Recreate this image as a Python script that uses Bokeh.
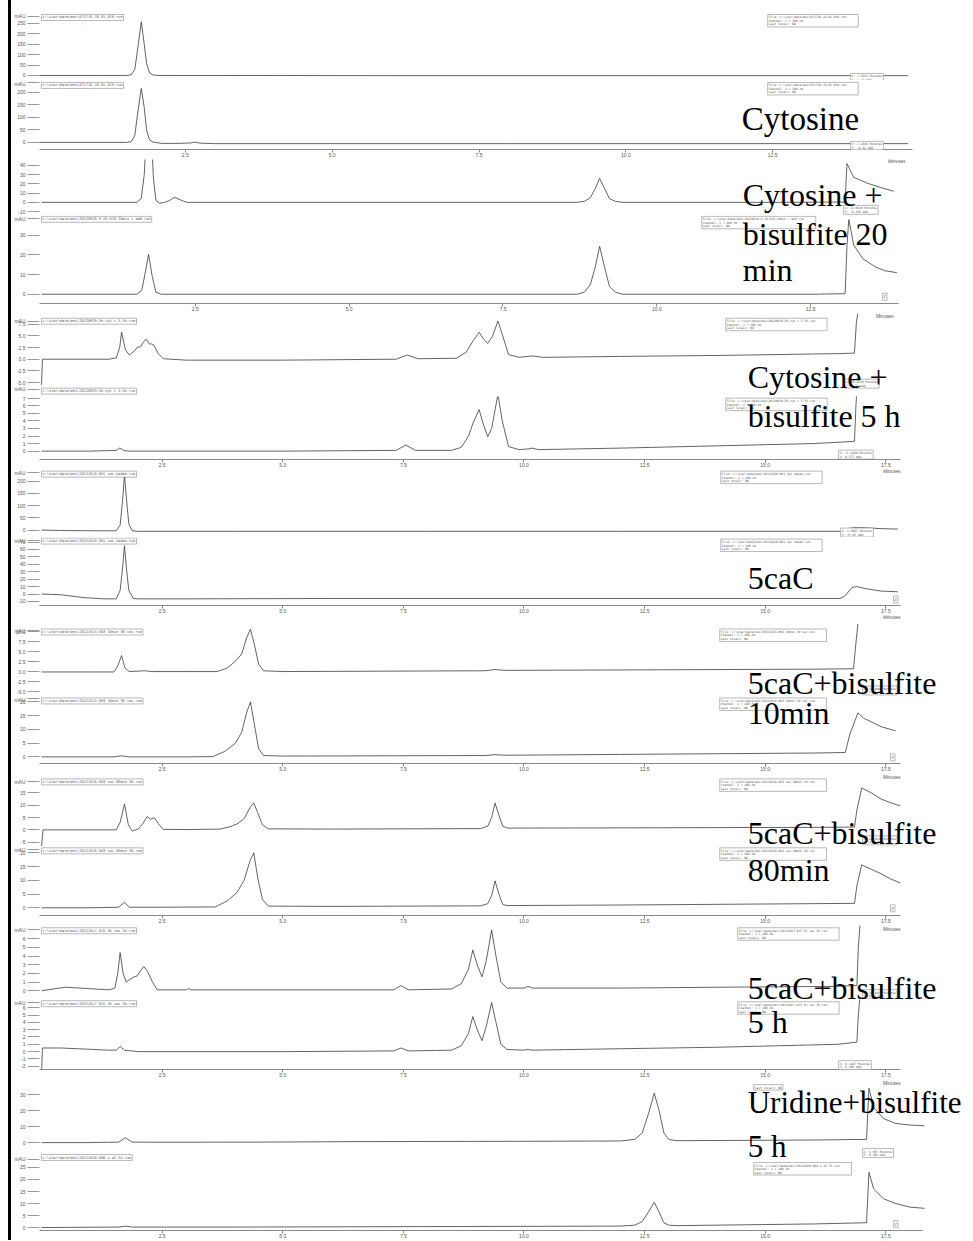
from bokeh.plotting import figure
from bokeh.layouts import column, row
from bokeh.models import Range1d, FixedTicker, Label, Div, PrintfTickFormatter
from bokeh.embed import file_html
from bokeh.resources import INLINE

# ---------------- data (time in minutes, signal in mAU) ----------------
x_ticks_short = [2.5, 5.0, 7.5, 10.0, 12.5]
x_ticks_long = [2.5, 5.0, 7.5, 10.0, 12.5, 15.0, 17.5]

sample_names = [
    ["Cytosine"],
    ["Cytosine +", "bisulfite 20", "min"],
    ["Cytosine +", "bisulfite 5 h"],
    ["5caC"],
    ["5caC+bisulfite", "10min"],
    ["5caC+bisulfite", "80min"],
    ["5caC+bisulfite", "5 h"],
    ["Uridine+bisulfite", "5 h"],
]

# Cytosine
g1a_t = [0, 1.0, 1.50, 1.58, 1.64, 1.69, 1.75, 1.80, 1.84, 1.89, 1.95, 2.05, 6.0, 10.5, 14.8]
g1a_v = [0, 0, 0, 3, 30, 130, 258, 150, 60, 12, 2, 0, -1, -1, -1]
g1a_ticks = [0, 50, 100, 150, 200, 250]
g1b_t = [0, 1.0, 1.50, 1.58, 1.64, 1.69, 1.75, 1.80, 1.84, 1.89, 1.95, 2.1, 2.4, 2.6, 2.66, 2.75, 3.0, 8.0, 14.8]
g1b_v = [0, 0, 0, 3, 28, 120, 216, 140, 50, 10, 1, -4, -4, -2, 1, -3, -5, -5, -5]
g1b_ticks = [0, 50, 100, 150, 200]

# Cytosine + bisulfite 20 min
g2a_t = [0, 1.0, 1.55, 1.62, 1.67, 1.71, 1.74, 1.78, 1.82, 1.86, 1.92, 2.0, 2.08, 2.16, 2.26, 2.36, 4.0, 8.7,
         8.82, 8.92, 9.0, 9.07, 9.15, 9.23, 9.33, 9.45, 12.0, 13.06, 13.09, 13.2, 13.43, 13.64, 13.85]
g2a_v = [0, 0, 0, 4, 30, 80, 90, 80, 25, 2, -1, 0, 2, 5.5, 2.5, 0, 0, 0,
         1, 5, 15, 26, 15, 4, 1, 0, 0, 0.3, 42, 27, 20.5, 16, 12]
g2a_ticks = [-10, 0, 10, 20, 30, 40]
g2b_t = [0, 1.0, 1.55, 1.63, 1.68, 1.74, 1.80, 1.86, 1.95, 3.0, 6.0, 8.7, 8.82, 8.92, 9.0, 9.07, 9.15, 9.23,
         9.33, 9.45, 11.0, 12.5, 13.06, 13.09, 13.12, 13.2, 13.35, 13.55, 13.7, 13.9]
g2b_v = [0, 0, 0, 2, 10, 20.3, 9, 1, 0, 0, 0, 0, 1, 5, 14, 24.4, 14, 4,
         1, 0, 0, 0, 0.3, 25, 38, 25, 18, 14, 12, 11]
g2b_ticks = [0, 10, 20, 30]

# Cytosine + bisulfite 5 h
g3a_t = [0, 0.02, 0.5, 1.4, 1.55, 1.62, 1.66, 1.74, 1.82, 1.93, 1.99, 2.05, 2.12, 2.17, 2.24, 2.28, 2.33,
         2.42, 2.53, 3.0, 5.0, 7.35, 7.58, 7.8, 8.6, 8.8, 8.95, 9.07, 9.17, 9.25, 9.35, 9.46, 9.56, 9.68,
         9.9, 10.17, 10.4, 12.0, 14.0, 16.5, 16.85, 16.89, 16.95]
g3a_v = [-5.5, 0, 0, 0, 0.3, 2.5, 5.8, 2.0, 0.9, 1.8, 2.6, 2.6, 3.8, 4.3, 3.2, 3.3, 3.0,
         1.2, 0.1, -0.2, -0.2, 0, 0.9, 0.1, 0.2, 1.5, 4.0, 5.8, 4.2, 3.4, 5.0, 8.2, 5.0, 1.0,
         0.4, 0.7, 0.4, 0.6, 0.8, 1.2, 1.3, 8, 12]
g3a_ticks = [-5.0, -2.5, 0.0, 2.5, 5.0, 7.5]
g3b_t = [0, 1.0, 1.55, 1.62, 1.70, 1.8, 3.0, 5.0, 7.35, 7.55, 7.75, 8.5, 8.7, 8.85, 8.95, 9.07, 9.16, 9.25,
         9.33, 9.46, 9.55, 9.68, 9.9, 10.1, 10.17, 10.3, 12.0, 14.0, 16.0, 16.6, 16.85, 16.88, 16.92]
g3b_v = [0, 0, 0.1, 0.4, 0.1, 0, 0, 0, 0.1, 0.8, 0.1, 0.1, 0.5, 2.0, 3.8, 5.5, 3.5, 1.9,
         3.0, 7.5, 4.0, 0.6, 0.2, 0.3, 0.4, 0.2, 0.4, 0.7, 1.0, 1.2, 1.3, 6, 10]
g3b_ticks = [0, 1, 2, 3, 4, 5, 6, 7]

# 5caC
g4a_t = [0, 0.5, 1.2, 1.55, 1.63, 1.68, 1.72, 1.76, 1.81, 1.88, 2.0, 4.0, 8.0, 12.0, 16.6, 16.75, 16.9, 17.1, 17.4, 17.75]
g4a_v = [0, -2, -3, -3, 20, 120, 224, 130, 25, -3, -5, -5, -5, -5, -5, 8, 10, 9, 6, 4]
g4a_ticks = [0, 50, 100, 150, 200]
g4b_t = [0, 0.4, 0.9, 1.3, 1.55, 1.63, 1.68, 1.72, 1.76, 1.81, 1.9, 2.0, 3.0, 6.0, 10.0, 14.0, 16.55, 16.65,
         16.8, 16.9, 17.1, 17.4, 17.75]
g4b_v = [0, -1, -5, -6.5, -6.5, 5, 35, 65, 35, 5, -6, -6.5, -6.5, -6, -6, -6, -6, -3,
         9, 10, 7, 4, 3]
g4b_ticks = [-10, 0, 10, 20, 30, 40, 50, 60, 70]

# 5caC + bisulfite 10 min
g5a_t = [0, 1.0, 1.5, 1.58, 1.66, 1.73, 1.82, 2.0, 2.13, 2.3, 3.0, 3.64, 3.85, 4.02, 4.15, 4.25, 4.33, 4.41,
         4.5, 4.6, 5.0, 9.2, 9.4, 9.6, 12.0, 16.0, 16.83, 16.87, 16.92]
g5a_v = [0, 0, 0, 1.5, 4.1, 1.0, 0.1, 0.2, 0.3, 0.1, 0.1, 0.1, 1.0, 2.7, 4.5, 8.5, 10.7, 7.0,
         2.0, 0.3, 0.1, 0.3, 0.6, 0.4, 0.5, 0.7, 0.8, 6, 12]
g5a_ticks = [-5.0, -2.5, 0.0, 2.5, 5.0, 7.5, 10.0]
g5b_t = [0, 1.5, 1.66, 1.8, 3.0, 3.55, 3.8, 4.02, 4.15, 4.25, 4.33, 4.41, 4.5, 4.6, 5.0, 9.2, 9.4, 9.6, 12.0,
         16.0, 16.66, 16.75, 16.92, 17.05, 17.17, 17.4, 17.7]
g5b_v = [0, 0, 0.4, 0, 0, 0.1, 2.0, 5.0, 9, 16, 20, 12, 3, 0.5, 0.3, 0.5, 0.8, 0.6, 0.9,
         1.4, 1.6, 8, 16, 14, 13, 11, 9.5]
g5b_ticks = [0, 5, 10, 15, 20]

# 5caC + bisulfite 80 min
g6a_t = [0, 0.03, 1.0, 1.55, 1.63, 1.72, 1.80, 1.88, 2.0, 2.1, 2.19, 2.26, 2.34, 2.42, 2.52, 3.0, 3.7, 3.9,
         4.05, 4.2, 4.32, 4.4, 4.48, 4.58, 4.7, 6.0, 9.1, 9.25, 9.33, 9.4, 9.48, 9.56, 9.65, 12.0, 16.0,
         16.85, 16.9, 17.0, 17.2, 17.4, 17.6, 17.8]
g6a_v = [-7, 0, 0, 0, 3, 10.5, 2, -0.5, 0.3, 2.5, 5.4, 4.3, 4.9, 2.5, 0.2, 0.1, 0.3, 1.2,
         2.4, 4.5, 9, 10.9, 7, 2, 0.4, 0.3, 0.5, 1.5, 5, 10.9, 6, 1.5, 0.7, 0.8, 1.0,
         1.1, 8, 17, 15, 12.5, 11, 9.7]
g6a_ticks = [-5, 0, 5, 10, 15]
g6b_t = [0, 1.0, 1.6, 1.72, 1.82, 2.5, 3.6, 3.85, 4.05, 4.2, 4.32, 4.4, 4.48, 4.58, 4.7, 6.0, 9.1, 9.25,
         9.33, 9.4, 9.48, 9.56, 9.65, 12.0, 16.0, 16.85, 16.9, 17.0, 17.2, 17.4, 17.6, 17.8]
g6b_v = [0, 0, 0.2, 2.0, 0.2, 0.2, 0.3, 2.5, 5.5, 10, 17, 20, 11, 3, 0.6, 0.5, 0.7, 1.5,
         4.5, 9.8, 5, 1.2, 0.8, 1.0, 1.5, 1.6, 8, 15.6, 14, 12.4, 10.5, 9]
g6b_ticks = [0, 5, 10, 15, 20]

# 5caC + bisulfite 5 h
g7a_t = [0, 0.5, 1.4, 1.52, 1.58, 1.63, 1.69, 1.76, 1.83, 1.92, 1.98, 2.05, 2.12, 2.2, 2.3, 2.4, 3.0, 3.05,
         3.1, 5.0, 7.3, 7.45, 7.6, 8.5, 8.7, 8.85, 8.94, 9.03, 9.13, 9.22, 9.33, 9.42, 9.52, 9.65, 10.0,
         10.08, 10.18, 12.0, 14.0, 16.5, 16.9, 16.93, 16.97]
g7a_v = [0, 0.4, 0.1, 0.3, 2.0, 4.4, 2.0, 1.0, 1.3, 1.6, 1.7, 2.3, 2.8, 2.2, 1.0, 0.1, 0.1, 0.25,
         0.1, 0.1, 0.1, 0.6, 0.1, 0.2, 0.8, 2.5, 4.7, 3.0, 1.6, 3.5, 7.0, 4.0, 1.0, 0.3, 0.3,
         0.5, 0.3, 0.3, 0.4, 0.5, 0.6, 5, 8]
g7a_ticks = [0, 1, 2, 3, 4, 5, 6]
g7b_t = [0, 0.02, 0.4, 1.4, 1.55, 1.63, 1.72, 2.0, 5.0, 7.3, 7.45, 7.6, 8.5, 8.7, 8.85, 8.94, 9.03, 9.13,
         9.22, 9.33, 9.42, 9.52, 9.65, 10.0, 10.08, 10.18, 12.0, 14.0, 16.5, 16.9, 16.93, 16.97]
g7b_v = [-3, 0.5, 0.5, 0.2, 0.2, 0.7, 0.2, 0.0, 0.0, 0.1, 0.5, 0.1, 0.2, 0.8, 2.5, 4.8, 3.0, 1.5,
         3.5, 6.7, 4.0, 1.0, 0.3, 0.2, 0.3, 0.2, 0.4, 0.6, 1.0, 1.3, 5, 8]
g7b_ticks = [-2, -1, 0, 1, 2, 3, 4, 5, 6]

# Uridine + bisulfite 5 h
g8a_t = [0, 1.0, 1.6, 1.74, 1.88, 2.5, 4.6, 6.5, 10.0, 12.0, 12.3, 12.45, 12.58, 12.7, 12.8, 12.9, 13.0,
         13.15, 14.0, 16.0, 17.1, 17.15, 17.25, 17.45, 17.7, 18.0, 18.3]
g8a_v = [0, 0, 0.3, 3.0, 0.3, 0.2, 0.3, 0.6, 0.8, 1.0, 2, 6, 18, 31, 20, 6, 2,
         1.2, 1.3, 1.6, 2.0, 34, 22, 15, 12, 11, 10.5]
g8a_ticks = [0, 10, 20, 30]
g8b_t = [0, 1.6, 1.74, 1.88, 4.0, 8.0, 10.0, 12.0, 12.3, 12.45, 12.58, 12.7, 12.8, 12.9, 13.0, 13.15, 14.0,
         16.0, 17.1, 17.15, 17.25, 17.45, 17.7, 18.0, 18.3]
g8b_v = [0, 0.2, 0.6, 0.2, 0.2, 0.4, 0.5, 0.6, 1.0, 2.5, 6.5, 10.5, 6.5, 2.0, 1.0, 0.8, 1.0,
         1.5, 2.0, 23, 16, 12, 10, 8.5, 8]
g8b_ticks = [0, 5, 10, 15, 20, 25]

# ---------------- layout (reference pixel geometry) ----------------
K = 1240.0 / 1241.0
FRAME_L = 38          # page x of the plotting frames
FRAME_R = 965         # page x of the right edge of every panel
COL_X = 11            # page x where the panels start (after the black bar)


def P(y):
    return y * K


groups = [
    dict(x0=37, ppm=58.8, R=912, ticks=x_ticks_short),
    dict(x0=40, ppm=61.6, R=898, ticks=x_ticks_short),
    dict(x0=40, ppm=48.3, R=900, ticks=x_ticks_long),
    dict(x0=40, ppm=48.3, R=900, ticks=x_ticks_long),
    dict(x0=40, ppm=48.3, R=900, ticks=x_ticks_long),
    dict(x0=40, ppm=48.3, R=900, ticks=x_ticks_long),
    dict(x0=40, ppm=48.3, R=900, ticks=x_ticks_long),
    dict(x0=40, ppm=48.3, R=922, ticks=x_ticks_long),
]

traces = [
    dict(t=g1a_t, v=g1a_v, ticks=g1a_ticks, fmt="%d", g=0, fig=(0, 80), axis=None, cal=((0, 75), (250, 23))),
    dict(t=g1b_t, v=g1b_v, ticks=g1b_ticks, fmt="%d", g=0, fig=(80, 159), axis=149, cal=((0, 142), (200, 92))),
    dict(t=g2a_t, v=g2a_v, ticks=g2a_ticks, fmt="%d", g=1, fig=(159, 215), axis=None, cal=((0, 202), (40, 165))),
    dict(t=g2b_t, v=g2b_v, ticks=g2b_ticks, fmt="%d", g=1, fig=(215, 313), axis=303, cal=((0, 294), (30, 235))),
    dict(t=g3a_t, v=g3a_v, ticks=g3a_ticks, fmt="%.1f", g=2, fig=(313, 396), axis=None, cal=((0, 359), (7.5, 324))),
    dict(t=g3b_t, v=g3b_v, ticks=g3b_ticks, fmt="%d", g=2, fig=(396, 469), axis=459, cal=((0, 451), (7, 398))),
    dict(t=g4a_t, v=g4a_v, ticks=g4a_ticks, fmt="%d", g=3, fig=(469, 537), axis=None, cal=((0, 530), (200, 481))),
    dict(t=g4b_t, v=g4b_v, ticks=g4b_ticks, fmt="%d", g=3, fig=(537, 615), axis=605, cal=((0, 594), (70, 542))),
    dict(t=g5a_t, v=g5a_v, ticks=g5a_ticks, fmt="%.1f", g=4, fig=(615, 697), axis=None, cal=((0, 672), (10, 632))),
    dict(t=g5b_t, v=g5b_v, ticks=g5b_ticks, fmt="%d", g=4, fig=(697, 774), axis=764, cal=((0, 757), (20, 702))),
    dict(t=g6a_t, v=g6a_v, ticks=g6a_ticks, fmt="%d", g=5, fig=(774, 847), axis=None, cal=((0, 830), (15, 793))),
    dict(t=g6b_t, v=g6b_v, ticks=g6b_ticks, fmt="%d", g=5, fig=(847, 926), axis=916, cal=((0, 908), (20, 853))),
    dict(t=g7a_t, v=g7a_v, ticks=g7a_ticks, fmt="%d", g=6, fig=(926, 1000), axis=None, cal=((0, 991), (6, 939))),
    dict(t=g7b_t, v=g7b_v, ticks=g7b_ticks, fmt="%d", g=6, fig=(1000, 1080), axis=1070, cal=((0, 1052), (6, 1008))),
    dict(t=g8a_t, v=g8a_v, ticks=g8a_ticks, fmt="%d", g=7, fig=(1080, 1162), axis=None, cal=((0, 1143), (30, 1095))),
    dict(t=g8b_t, v=g8b_v, ticks=g8b_ticks, fmt="%d", g=7, fig=(1162, 1241), axis=1232, cal=((0, 1229), (25, 1168))),
]

# "mAU" captions at the top of each signal axis (reference y)
mau_y = [16, 82, 218, 321, 389, 472, 540, 631, 699, 782, 850, 930, 1003, 1160]

LINE = "#3c3c3c"
AX = "#8a8a8a"
SMALL_FONT = "Liberation Sans"
MONO = "DejaVu Sans Mono"

geo = []
for tr in traces:
    top = round(P(tr["fig"][0]))
    bot = round(P(tr["fig"][1]))
    fb_ref = tr["axis"] if tr["axis"] is not None else tr["fig"][1]
    Ftop = top
    Fbot = round(P(fb_ref))
    (v0, p0), (v1, p1) = tr["cal"]
    s = (P(p0) - P(p1)) / (v1 - v0)
    ye = v0 + (P(p0) - Ftop) / s
    ys = v0 - (Fbot - P(p0)) / s
    g = groups[tr["g"]]
    xs = (FRAME_L - g["x0"]) / g["ppm"]
    xe = (FRAME_R - g["x0"]) / g["ppm"]
    geo.append(dict(top=top, bot=bot, Ftop=Ftop, Fbot=Fbot, ys=ys, ye=ye, xs=xs, xe=xe,
                    ref_top=tr["fig"][0], ref_bot=tr["fig"][1],
                    axis_end=(g["R"] - g["x0"]) / g["ppm"], extra={}))


def find(yr):
    for i, gg in enumerate(geo):
        if gg["ref_top"] <= yr < gg["ref_bot"]:
            return i
    return len(geo) - 1


def to_data(gg, xr, yr):
    dx = gg["xs"] + (xr - FRAME_L) / (FRAME_R - FRAME_L) * (gg["xe"] - gg["xs"])
    dy = gg["ye"] - (P(yr) - gg["Ftop"]) / (gg["Fbot"] - gg["Ftop"]) * (gg["ye"] - gg["ys"])
    return dx, dy


for my in mau_y:
    gg = geo[find(my)]
    _, dy = to_data(gg, FRAME_L, my)
    gg["extra"][round(dy, 4)] = "mAU"

figs = []
for tr, gg in zip(traces, geo):
    g = groups[tr["g"]]
    p = figure(width=FRAME_R - COL_X, height=gg["bot"] - gg["top"], x_range=Range1d(gg["xs"], gg["xe"]),
               y_range=Range1d(gg["ys"], gg["ye"]),
               output_backend="svg", toolbar_location=None,
               x_axis_location="below" if tr["axis"] is not None else None,
               min_border_left=FRAME_L - COL_X, min_border_right=0,
               min_border_top=0, min_border_bottom=gg["bot"] - gg["Fbot"])
    p.title.visible = False
    p.outline_line_color = None
    p.grid.visible = False
    p.background_fill_color = "white"
    p.border_fill_color = "white"
    ya = p.yaxis[0]
    ya.ticker = FixedTicker(ticks=list(tr["ticks"]) + list(gg["extra"].keys()))
    ya.formatter = PrintfTickFormatter(format=tr["fmt"])
    ya.major_label_overrides = dict(gg["extra"])
    ya.axis_line_color = None
    ya.major_tick_line_color = "#9a9a9a"
    ya.major_tick_out = 12
    ya.major_tick_in = 0
    ya.minor_tick_line_color = None
    ya.major_label_standoff = 2
    ya.major_label_text_font_size = "5px"
    ya.major_label_text_font = SMALL_FONT
    ya.major_label_text_color = "#555555"
    if tr["axis"] is not None:
        xa = p.xaxis[0]
        xa.ticker = FixedTicker(ticks=g["ticks"])
        xa.formatter = PrintfTickFormatter(format="%.1f")
        xa.bounds = (gg["xs"], gg["axis_end"])
        xa.axis_line_color = AX
        xa.axis_line_width = 1.2
        xa.major_tick_line_color = AX
        xa.major_tick_out = 3
        xa.major_tick_in = 0
        xa.minor_tick_line_color = None
        xa.major_label_standoff = 0
        xa.major_label_text_font_size = "5px"
        xa.major_label_text_font = SMALL_FONT
        xa.major_label_text_color = "#555555"
    p.line(tr["t"], tr["v"], line_color=LINE, line_width=0.8)
    figs.append(p)


def place(xr, yr, text, size="4px", font=SMALL_FONT, box=False, align="left", baseline="middle",
          color="#555555", lh=1.2):
    i = find(yr)
    dx, dy = to_data(geo[i], xr, yr)
    kw = dict(x=dx, y=dy, text=text, text_font_size=size, text_font=font, text_align=align,
              text_baseline=baseline, text_color=color, text_line_height=lh)
    if box:
        kw.update(border_line_color="#8a8a8a", border_line_width=0.6, background_fill_color="white",
                  padding=1)
    figs[i].add_layout(Label(**kw))


def info(run, ch):
    return "      File: c:\\star\\data\\mei\\" + run + ".run\n  Channel: " + ch + "\nLast recalc: NA"


def title(run):
    return "c:\\star\\data\\mei\\" + run + ".run"


def cursor(xm, ym):
    return "X: " + xm + " Minutes\nY: " + ym + " mAU"


runs = ["071710-18-01-019", "20120928-9-20-019 20min c add", "20120929-5h-cyt c 5.5h",
        "20121010-001 cac nadao", "20121015-003 10min 30 cac", "20121016-003 cac 80min 30",
        "20121017-015 5h cac 5h", "20121020-008 u 45 55"]

# per-trace small annotations: (group, title y, info x, info y, cursor x, cursor y, channel, X, Y)
annots = [
    (0, 14, 767, 14, 850, 73, "2 = 260 nm", "1.9352", "1.13"),
    (0, 82, 767, 82, 850, 141, "1 = 280 nm", "2.1035", "-0.41"),
    (1, None, None, None, 843, 205, None, "13.0820", "-0.256"),
    (1, 216, 701, 216, None, None, "1 = 280 nm", None, None),
    (2, 318, 725, 318, 844, 379, "2 = 260 nm", "16.9120", "8.23"),
    (2, 388, 725, 398, 838, 450, "1 = 280 nm", "11.2840", "0.577"),
    (3, 471, 720, 471, 840, 528, "2 = 260 nm", "1.6667", "15.65"),
    (3, 538, 720, 539, None, None, "1 = 280 nm", None, None),
    (4, 629, 719, 629, 862, 686, "2 = 260 nm", "16.9004", "5.21"),
    (4, 698, 719, 698, None, None, "1 = 280 nm", None, None),
    (5, 779, 719, 779, 862, 836, "2 = 260 nm", "16.9530", "4.68"),
    (5, 848, 719, 848, None, None, "1 = 280 nm", None, None),
    (6, 928, 737, 928, 862, 990, "2 = 260 nm", "16.9450", "6.01"),
    (6, 1001, 737, 1002, 838, 1061, "1 = 280 nm", "9.1187", "6.166"),
    (7, None, 753, 1085, 862, 1149, None, "5.067", "0.401"),
    (7, 1155, 753, 1163, None, None, "1 = 280 nm", None, None),
]

for (gi, ty, ix, iy, cx, cy, ch, xm, ym) in annots:
    if ty is not None:
        place(40, ty, title(runs[gi]), size="3.6px", font=MONO, box=True, baseline="top", lh=1.0)
    if ix is not None:
        if ch is None:
            place(ix, iy, "Last recalc: NA", size="3px", font=MONO, box=True, baseline="top", lh=1.0)
        else:
            place(ix, iy, info(runs[gi], ch), size="3px", font=MONO, box=True, baseline="top", lh=1.0)
    if cx is not None:
        place(cx, cy, cursor(xm, ym), size="3px", font=MONO, box=True, baseline="top", lh=1.0)

# zoom marks and "Minutes" captions under each time axis
for zx, zy in [(882, 293), (893, 596), (890, 754), (890, 905), (893, 1222)]:
    place(zx, zy, "Z", size="4px", box=True, baseline="top")
for mx, my in [(905, 161), (893, 316), (900, 471), (900, 617), (900, 777), (900, 929), (900, 1083)]:
    place(mx, my, "Minutes", size="5px", align="right")

# big sample names (left x, vertical centres of each line)
name_pos = [
    (741, [119], "33px"),
    (742, [195, 234, 270], "32px"),
    (747, [377, 416], "32px"),
    (747, [578], "32px"),
    (747, [683, 713], "32px"),
    (747, [833, 870], "32px"),
    (747, [988, 1022], "32px"),
    (747, [1103, 1147], "31px"),
]
for names, (nx, ys, fs) in zip(sample_names, name_pos):
    for txt, ny in zip(names, ys):
        place(nx, ny, txt, size=fs, font="Liberation Serif", color="black", baseline="middle")

bar = Div(width=3, height=round(P(1241)), margin=(0, 0, 0, 8), styles={"background-color": "black"})
layout = row(bar, column(*figs, spacing=0), spacing=0)

open("out.html", "w").write(file_html(layout, INLINE))
